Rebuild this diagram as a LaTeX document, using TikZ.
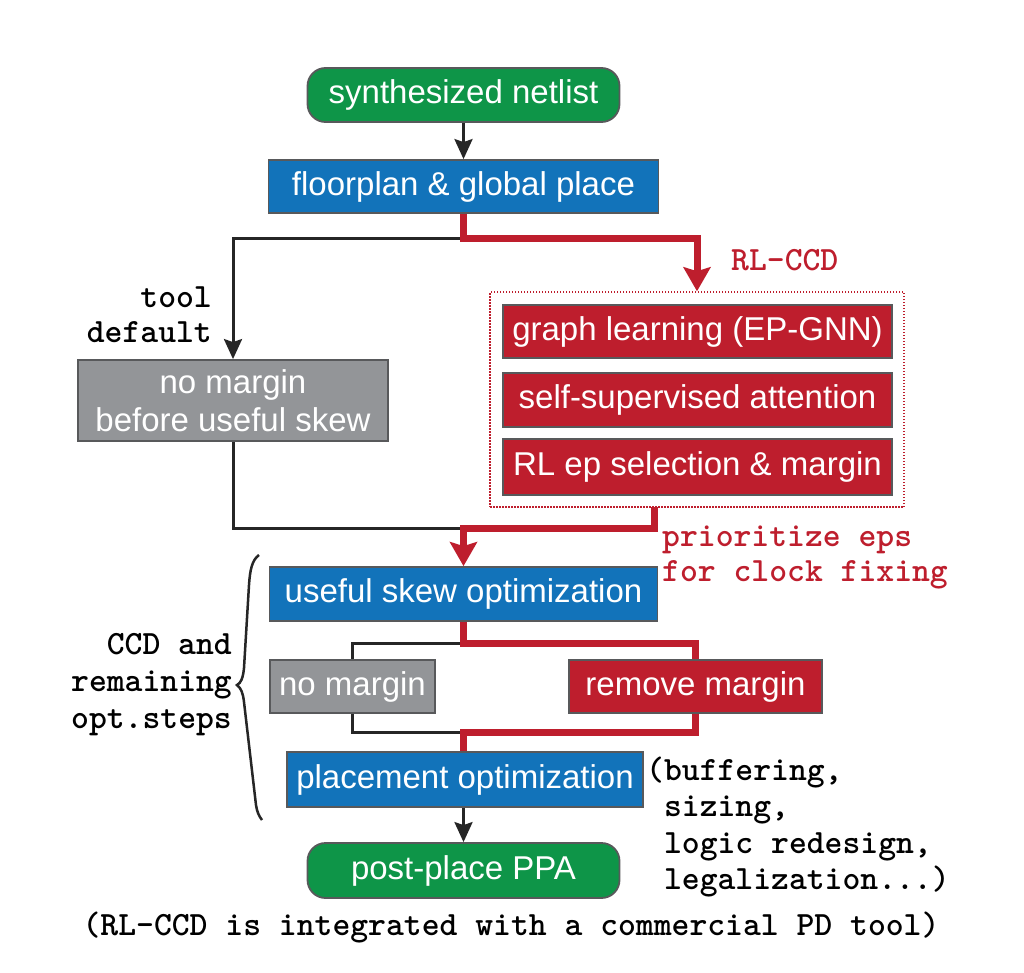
\documentclass[tikz,border=0pt]{standalone}
\usepackage{fontspec}
\setmainfont{Liberation Sans}
\usetikzlibrary{arrows.meta}
\definecolor{cgreen}{HTML}{0E9548}
\definecolor{cblue}{HTML}{1273BA}
\definecolor{cred}{HTML}{BE1E2D}
\definecolor{cgray}{HTML}{939598}
\definecolor{cborder}{HTML}{58595B}
\begin{document}
\begin{tikzpicture}[x=1pt,y=-1pt,
  box/.style={draw=cborder, line width=1.8pt, text=white, font=\fontsize{33}{38}\selectfont, inner sep=0pt, align=center},
  greenbox/.style={box, fill=cgreen, rounded corners=18pt},
  bluebox/.style={box, fill=cblue},
  redbox/.style={box, fill=cred},
  graybox/.style={box, fill=cgray},
  bline/.style={line width=3pt, black!85},
  rline/.style={line width=7pt, cred},
  barrow/.style={bline, -{Stealth[length=20pt,width=18pt,inset=3pt]}},
  rarrow/.style={rline, -{Stealth[length=24pt,width=27pt,inset=4pt]}},
  mono/.style={font=\ttfamily\bfseries\fontsize{34}{35}\selectfont, inner sep=0pt},
  dotbox/.style={draw=cred, line width=1.5pt, dash pattern=on 1.5pt off 1.5pt, inner sep=0pt},
]
\useasboundingbox[fill=white] (0,0) rectangle (1024,972);

% boxes
\node[greenbox, minimum width=312pt, minimum height=54pt] (syn) at (463.5,95) {synthesized netlist};
\node[bluebox, minimum width=390pt, minimum height=53pt] (fp) at (463.5,186.5) {floorplan \& global place};
\node[graybox, minimum width=310pt, minimum height=81pt] (g1) at (233,400.5) {no margin\\before useful skew};
\node[dotbox, minimum width=414pt, minimum height=215pt] (rlbox) at (697,399.5) {};
\node[redbox, minimum width=389pt, minimum height=53pt] (gl) at (697.5,331.5) {graph learning (EP-GNN)};
\node[redbox, minimum width=389pt, minimum height=54pt] (ssa) at (697.5,400) {self-supervised attention};
\node[redbox, minimum width=389pt, minimum height=56pt] (rlep) at (697.5,467) {RL ep selection \& margin};
\node[bluebox, minimum width=388pt, minimum height=54pt] (us) at (463.5,594) {useful skew optimization};
\node[graybox, minimum width=165pt, minimum height=53pt] (nm) at (352.5,686.5) {no margin};
\node[redbox, minimum width=253pt, minimum height=53pt] (rm) at (695.5,686.5) {remove margin};
\node[bluebox, minimum width=356pt, minimum height=55pt] (po) at (465,779.5) {placement optimization};
\node[greenbox, minimum width=312pt, minimum height=55pt] (ppa) at (463.5,870.5) {post-place PPA};

% labels
\node[mono, text=cred, anchor=west] (rlccd) at (731,260) {RL-CCD};
\node[mono, align=right, anchor=east] (tool) at (212,314.5) {tool\\default};
\node[mono, text=cred, align=left, anchor=west] (prio) at (662,557.5) {prioritize eps\\for clock fixing};
\node[mono, font=\ttfamily\bfseries\fontsize{34}{37}\selectfont, align=right, anchor=east] (ccd) at (232,685) {CCD and\\remaining\\opt.steps};
\node[mono, font=\ttfamily\bfseries\fontsize{34}{36.3}\selectfont, align=left, anchor=west] (buf) at (646,827) {(buffering,\\\hspace*{0.525em}sizing,\\\hspace*{0.525em}logic redesign,\\\hspace*{0.525em}legalization...)};
\node[mono] (note) at (511,928) {(RL-CCD is integrated with a commercial PD tool)};

% junctions
\coordinate (j1) at (463.5,238);
\coordinate (j2) at (463.5,528);
\coordinate (j3) at (463.5,643);
\coordinate (j4) at (463.5,732);
\coordinate (rbout) at (654,507);

% black connectors
\draw[barrow] (syn.south) -- (fp.north);
\draw[barrow] (j1) -| (g1.north);
\draw[bline] (g1.south) |- (j2);
\draw[bline] (j3) -| (nm.north);
\draw[bline] (nm.south) |- (j4);
\draw[barrow] (j4 |- po.south) -- (ppa.north);

% red connectors
\draw[rarrow] (fp.south) -- (j1) -| (rlbox.north);
\draw[rarrow] (rbout) |- (j2) -- (us.north);
\draw[rline] (us.south) -- (j3) -| (rm.north);
\draw[rline] (rm.south) |- (j4) -- (j4 |- po.north);

% brace
\draw[line width=2.5pt, black!85] (259,555) .. controls (252,560) and (250,570) .. (249,585)
  -- (244,668) .. controls (243,678) and (241,683) .. (237,685)
  .. controls (241,688) and (243,693) .. (244,702)
  -- (256,805) .. controls (257,812) and (259,816) .. (262,820);
\end{tikzpicture}
\end{document}
